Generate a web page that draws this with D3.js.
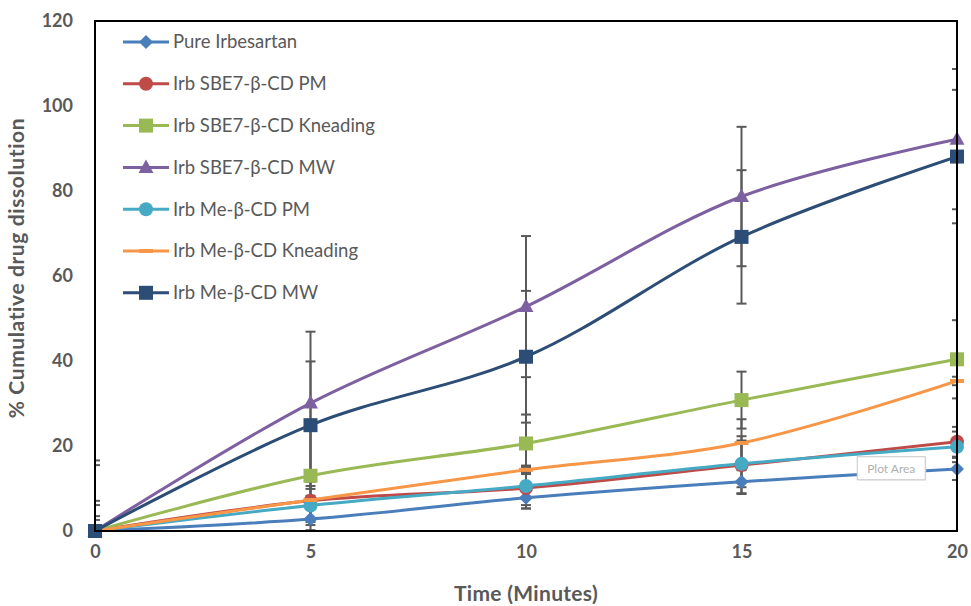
<!DOCTYPE html>
<html>
<head>
<meta charset="utf-8">
<script src="https://cdn.jsdelivr.net/npm/d3@7"></script>
<style>
  body { margin: 0; background: #fff; }
  text { font-family: Lato, "Open Sans", sans-serif; }
</style>
</head>
<body>
<div id="chart"></div>
<script>
// time points (minutes)
var times = [0, 5, 10, 15, 20];

var seriesNames = [
  "Pure Irbesartan",
  "Irb SBE7-\u03b2-CD PM",
  "Irb SBE7-\u03b2-CD Kneading",
  "Irb SBE7-\u03b2-CD MW",
  "Irb Me-\u03b2-CD PM",
  "Irb Me-\u03b2-CD Kneading",
  "Irb Me-\u03b2-CD MW"
];

// % cumulative drug dissolution
var pureIrb      = [0, 2.8, 7.8, 11.6, 14.6];
var sbePM        = [0, 7.1, 10.1, 15.5, 21.0];
var sbeKneading  = [0, 13.0, 20.6, 30.8, 40.4];
var sbeMW        = [0, 30.1, 52.8, 78.7, 92.2];
var mePM         = [0, 6.0, 10.6, 15.8, 19.8];
var meKneading   = [0, 7.3, 14.4, 20.7, 35.3];
var meMW         = [0, 24.9, 41.0, 69.2, 88.1];

// error bar half-lengths
var pureIrbErr     = [2.6, 2.6, 2.5, 2.7, 2.6];
var sbePMErr       = [3.5, 4.5, 4.8, 6.8, 3.5];
var sbeKneadingErr = [7.1, 10.9, 6.8, 6.7, 9.2];
var sbeMWErr       = [16.6, 16.8, 16.6, 16.4, 16.5];
var mePMErr        = [6.1, 4.6, 4.5, 5.5, 3.6];
var meKneadingErr  = [1.0, 1.0, 1.0, 5.6, 1.0];
var meMWErr        = [15.5, 15.0, 15.5, 15.7, 15.7];

var xTicks = [0, 5, 10, 15, 20];
var yTicks = [0, 20, 40, 60, 80, 100, 120];

var colors  = ["#4a7ebb", "#be4b48", "#98b954", "#7d60a0", "#46aac5", "#f79646", "#2c4d75"];
var markers = ["diamond", "circle", "square", "triangle", "circle", "dash", "square"];
var values  = [pureIrb, sbePM, sbeKneading, sbeMW, mePM, meKneading, meMW];
var errs    = [pureIrbErr, sbePMErr, sbeKneadingErr, sbeMWErr, mePMErr, meKneadingErr, meMWErr];

var series = seriesNames.map((name, i) => ({
  name: name,
  color: colors[i],
  marker: markers[i],
  points: times.map((t, j) => ({t: t, v: values[i][j], e: errs[i][j]}))
}));

var width = 971, height = 606;
var margin = {top: 21, right: 14, bottom: 75, left: 95};
var w = width - margin.left - margin.right;
var h = height - margin.top - margin.bottom;

var svg = d3.select("#chart").append("svg")
  .attr("width", width)
  .attr("height", height);

var g = svg.append("g")
  .attr("transform", "translate(" + margin.left + "," + margin.top + ")");

var x = d3.scaleLinear().domain([0, 20]).range([0, w]);
var y = d3.scaleLinear().domain([0, 120]).range([h, 0]);

svg.append("defs").append("clipPath").attr("id", "clip")
  .append("rect").attr("width", w).attr("height", h);

// tick labels
var xAxis = g.append("g")
  .attr("transform", "translate(0," + h + ")")
  .call(d3.axisBottom(x).tickValues(xTicks).tickSize(0).tickPadding(14));
var yAxis = g.append("g")
  .call(d3.axisLeft(y).tickValues(yTicks).tickSize(0).tickPadding(22));
[xAxis, yAxis].forEach(a => {
  a.select(".domain").remove();
  a.selectAll("text")
    .attr("font-family", "Lato, sans-serif")
    .attr("font-size", 18)
    .attr("font-weight", "bold")
    .attr("fill", "#595959");
});

// axis titles
g.append("text")
  .attr("x", w / 2)
  .attr("y", h + 70)
  .attr("text-anchor", "middle")
  .attr("font-size", 21)
  .attr("font-weight", "bold")
  .attr("letter-spacing", 0.3)
  .attr("fill", "#595959")
  .text("Time (Minutes)");

g.append("text")
  .attr("transform", "rotate(-90)")
  .attr("x", -247)
  .attr("y", -71)
  .attr("text-anchor", "middle")
  .attr("font-size", 21)
  .attr("font-weight", "bold")
  .attr("letter-spacing", 0.6)
  .attr("fill", "#595959")
  .text("% Cumulative drug dissolution");

var plot = g.append("g").attr("clip-path", "url(#clip)");

var line = d3.line()
  .x(d => x(d.t))
  .y(d => y(d.v))
  .curve(d3.curveCatmullRom.alpha(0.5));

// lines
plot.selectAll(".line")
  .data(series)
  .enter().append("path")
  .attr("class", "line")
  .attr("fill", "none")
  .attr("stroke", d => d.color)
  .attr("stroke-width", 3)
  .attr("d", d => line(d.points));

// error bars
var capW = 10;
series.forEach(s => {
  var eb = plot.append("g")
    .attr("stroke", "#595959")
    .attr("stroke-width", 2);
  s.points.forEach(p => {
    eb.append("line")
      .attr("x1", x(p.t)).attr("x2", x(p.t))
      .attr("y1", y(p.v + p.e)).attr("y2", y(p.v - p.e));
    [p.v + p.e, p.v - p.e].forEach(v => {
      eb.append("line")
        .attr("x1", x(p.t) - capW / 2).attr("x2", x(p.t) + capW / 2)
        .attr("y1", y(v)).attr("y2", y(v));
    });
  });
});

function drawMarker(sel, type, color, cx, cy) {
  if (type === "circle") {
    sel.append("circle").attr("cx", cx).attr("cy", cy).attr("r", 7).attr("fill", color);
  } else if (type === "square") {
    sel.append("rect").attr("x", cx - 7).attr("y", cy - 7).attr("width", 14).attr("height", 14).attr("fill", color);
  } else if (type === "diamond") {
    sel.append("path").attr("transform", "translate(" + cx + "," + cy + ")")
      .attr("d", "M0,-7L7,0L0,7L-7,0Z").attr("fill", color);
  } else if (type === "triangle") {
    sel.append("path").attr("transform", "translate(" + cx + "," + cy + ")")
      .attr("d", "M0,-8L7.5,5.5L-7.5,5.5Z").attr("fill", color);
  } else if (type === "dash") {
    sel.append("rect").attr("x", cx - 7).attr("y", cy - 2).attr("width", 14).attr("height", 4).attr("fill", color);
  }
}

// markers (not clipped so edge markers show fully)
var markG = g.append("g");
series.forEach(s => {
  s.points.forEach(p => drawMarker(markG, s.marker, s.color, x(p.t), y(p.v)));
});

// plot area border
g.append("rect")
  .attr("width", w)
  .attr("height", h)
  .attr("fill", "none")
  .attr("stroke", "#000")
  .attr("stroke-width", 2);

// legend
var legend = g.append("g").attr("transform", "translate(28, 21)");
series.forEach((s, i) => {
  var row = legend.append("g").attr("transform", "translate(0," + (i * 41.8) + ")");
  row.append("line")
    .attr("x1", 0).attr("x2", 46)
    .attr("stroke", s.color).attr("stroke-width", 3);
  drawMarker(row, s.marker, s.color, 23, 0);
  row.append("text")
    .attr("x", 50)
    .attr("y", 0)
    .attr("dy", "0.35em")
    .attr("font-size", 18.5)
    .attr("fill", "#595959")
    .text(s.name);
});

// "Plot Area" hover label seen in the picture
var tip = g.append("g").attr("transform", "translate(" + (x(17.5) + 8) + "," + (y(17) - 2) + ")");
tip.append("rect")
  .attr("x", 1).attr("y", 1).attr("width", 68).attr("height", 23)
  .attr("fill", "#ddd").attr("opacity", 0.6);
tip.append("rect")
  .attr("width", 68).attr("height", 23)
  .attr("fill", "#fff").attr("stroke", "#c8c8c8");
tip.append("text")
  .attr("x", 34).attr("y", 12).attr("dy", "0.35em")
  .attr("text-anchor", "middle")
  .attr("font-size", 12)
  .attr("fill", "#b0b0b0")
  .text("Plot Area");
</script>
</body>
</html>
